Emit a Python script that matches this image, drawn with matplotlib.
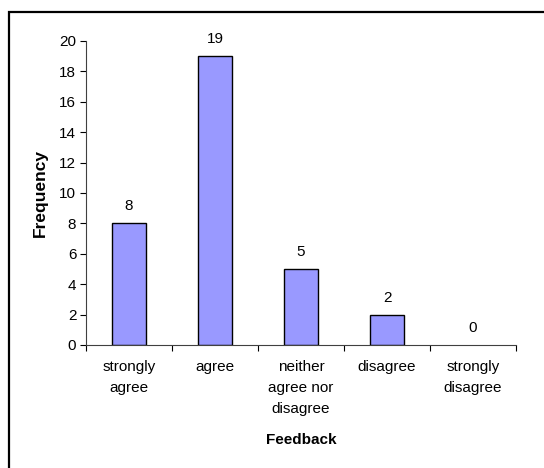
import matplotlib
matplotlib.use("Agg")
import matplotlib.pyplot as plt
from matplotlib.patches import Rectangle

categories = ["strongly\nagree", "agree", "neither\nagree nor\ndisagree", "disagree", "strongly\ndisagree"]
frequency = [8, 19, 5, 2, 0]
y_ticks = [0, 2, 4, 6, 8, 10, 12, 14, 16, 18, 20]

plt.rcParams["font.family"] = ["Liberation Sans", "DejaVu Sans"]

fig = plt.figure(figsize=(5.44, 4.68), dpi=100)
fig.patch.set_facecolor("white")

# chart-area frame (runs off the right and bottom edges)
frame = Rectangle((8.5 / 544, -0.1), 1.2, 0.1 + (1 - 12 / 468),
                  transform=fig.transFigure, fill=False,
                  edgecolor="black", linewidth=1.6, zorder=0)
fig.patches.append(frame)

ax = fig.add_axes([86 / 544, 1 - 345 / 468, (516 - 86) / 544, (345 - 41) / 468])

x = list(range(len(categories)))
edges = ["black" if v > 0 else "none" for v in frequency]
ax.bar(x, frequency, width=0.4, color="#9999FF", edgecolor=edges, linewidth=1.0, zorder=2)

for xi, v in zip(x, frequency):
    ax.annotate(str(v), (xi, v), xytext=(0, 13), textcoords="offset pixels",
                ha="center", va="baseline", fontsize=11)

ax.set_xlim(-0.5, len(categories) - 0.5)
ax.set_ylim(0, 20)
ax.set_yticks(y_ticks)
ax.tick_params(axis="y", direction="out", length=4, width=0.8, labelsize=11, pad=3)

# category boundaries carry the tick marks; labels sit at the centres
ax.set_xticks([i - 0.5 for i in range(len(categories) + 1)])
ax.set_xticklabels([])
ax.set_xticks(x, minor=True)
ax.set_xticklabels(categories, minor=True, fontsize=11, linespacing=1.62)
ax.tick_params(axis="x", which="major", direction="out", length=4, width=0.8)
ax.tick_params(axis="x", which="minor", length=0, pad=11)

for side in ["top", "right"]:
    ax.spines[side].set_visible(False)
for side in ["left", "bottom"]:
    ax.spines[side].set_color("#404040")
    ax.spines[side].set_linewidth(0.8)

ax.set_ylabel("Frequency", fontsize=12.5, fontweight="bold", labelpad=8)
ax.set_xlabel("Feedback", fontsize=11, fontweight="bold", labelpad=12)

fig.savefig("out.png", dpi=100, facecolor="white")
